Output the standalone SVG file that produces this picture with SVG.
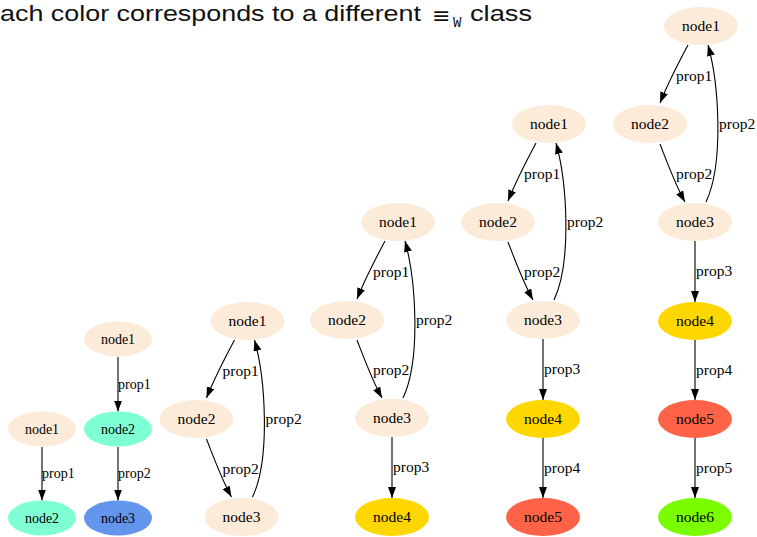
<svg xmlns="http://www.w3.org/2000/svg" width="757" height="537" viewBox="0 0 757 537">
<defs>
<marker id="arr" markerUnits="userSpaceOnUse" markerWidth="12" markerHeight="9" refX="11" refY="4" orient="auto">
<path d="M0,0 L11,4 L0,8 Z" fill="#000"/>
</marker>
<style>
.e{fill:none;stroke:#000;stroke-width:1.1;marker-end:url(#arr)}
.n text{font-family:"Liberation Serif",serif;font-size:15.5px;text-anchor:middle;fill:#000}
.lb{font-family:"Liberation Serif",serif;font-size:15.5px;fill:#000}
.s .n text,.s .lb{font-size:14px}
.c0{fill:#FDEBD9}.c1{fill:#7FFFD4}.c2{fill:#6495ED}.c3{fill:#FFD700}.c4{fill:#FF6347}.c5{fill:#7CFC00}
.title{font-family:"Liberation Sans",Arial,sans-serif;font-size:21.5px;fill:#111}
</style>
</defs>
<rect width="757" height="537" fill="#fff"/>
<text class="title" y="21"><tspan x="0" textLength="421" lengthAdjust="spacingAndGlyphs">ach color corresponds to a different</tspan><tspan x="432" y="23" font-family="DejaVu Sans,sans-serif" font-size="22">≡</tspan><tspan x="453" y="27" font-family="Liberation Mono,monospace" font-size="14">W</tspan><tspan x="470" y="21" textLength="62" lengthAdjust="spacingAndGlyphs">class</tspan></text>

<!-- Graph 1 -->
<g id="graph1" class="s">
<g id="g1-edges">
<path class="e" d="M42,447 L42,500.5"/>
<text class="lb" x="42" y="478">prop1</text>
</g>
<g id="g1-node1" class="n"><ellipse class="c0" cx="42" cy="429" rx="34" ry="17.5"/><text x="42" y="434">node1</text></g>
<g id="g1-node2" class="n"><ellipse class="c1" cx="42" cy="518" rx="34" ry="17.5"/><text x="42" y="523">node2</text></g>
</g>

<!-- Graph 2 -->
<g id="graph2" class="s">
<g id="g2-edges">
<path class="e" d="M118,357 L118,411.5"/>
<text class="lb" x="118" y="389">prop1</text>
<path class="e" d="M118,447 L118,500.5"/>
<text class="lb" x="118" y="478">prop2</text>
</g>
<g id="g2-node1" class="n"><ellipse class="c0" cx="118" cy="339" rx="34" ry="17.5"/><text x="118" y="344">node1</text></g>
<g id="g2-node2" class="n"><ellipse class="c1" cx="118" cy="429" rx="34" ry="17.5"/><text x="118" y="434">node2</text></g>
<g id="g2-node3" class="n"><ellipse class="c2" cx="118" cy="518" rx="34" ry="17.5"/><text x="118" y="523">node3</text></g>
</g>

<!-- Graph 3 -->
<g id="graph3" transform="translate(-150.5,99)">
<g id="g3-edges">
<path class="e" d="M385,241 C377,256 365,279 357,299"/>
<text class="lb" x="373" y="277">prop1</text>
<path class="e" d="M357,340 C364,358 372,380 382,398"/>
<text class="lb" x="373" y="375">prop2</text>
<path class="e" d="M403,398 C421,360 416,280 405,241"/>
<text class="lb" x="416" y="325">prop2</text>
</g>
<g id="g3-node1" class="n"><ellipse class="c0" cx="398" cy="222" rx="37" ry="19"/><text x="398" y="227">node1</text></g>
<g id="g3-node2" class="n"><ellipse class="c0" cx="347" cy="320" rx="37" ry="19"/><text x="347" y="325">node2</text></g>
<g id="g3-node3" class="n"><ellipse class="c0" cx="392" cy="418" rx="37" ry="19"/><text x="392" y="423">node3</text></g>
</g>

<!-- Graph 4 -->
<g id="graph4">
<g id="g4-edges">
<path class="e" d="M385,241 C377,256 365,279 357,299"/>
<text class="lb" x="373" y="277">prop1</text>
<path class="e" d="M357,340 C364,358 372,380 382,398"/>
<text class="lb" x="373" y="375">prop2</text>
<path class="e" d="M403,398 C421,360 416,280 405,241"/>
<text class="lb" x="416" y="325">prop2</text>
<path class="e" d="M392,437 L392,498"/>
<text class="lb" x="393" y="472">prop3</text>
</g>
<g id="g4-node1" class="n"><ellipse class="c0" cx="398" cy="222" rx="37" ry="19"/><text x="398" y="227">node1</text></g>
<g id="g4-node2" class="n"><ellipse class="c0" cx="347" cy="320" rx="37" ry="19"/><text x="347" y="325">node2</text></g>
<g id="g4-node3" class="n"><ellipse class="c0" cx="392" cy="418" rx="37" ry="19"/><text x="392" y="423">node3</text></g>
<g id="g4-node4" class="n"><ellipse class="c3" cx="392" cy="517" rx="37" ry="19"/><text x="392" y="522">node4</text></g>
</g>

<!-- Graph 5 -->
<g id="graph5" transform="translate(151,-98)">
<g id="g5-edges">
<path class="e" d="M385,241 C377,256 365,279 357,299"/>
<text class="lb" x="373" y="277">prop1</text>
<path class="e" d="M357,340 C364,358 372,380 382,398"/>
<text class="lb" x="373" y="375">prop2</text>
<path class="e" d="M403,398 C421,360 416,280 405,241"/>
<text class="lb" x="416" y="325">prop2</text>
<path class="e" d="M392,437 L392,498"/>
<text class="lb" x="393" y="472">prop3</text>
<path class="e" d="M392,536 L392,596"/>
<text class="lb" x="393" y="571">prop4</text>
</g>
<g id="g5-node1" class="n"><ellipse class="c0" cx="398" cy="222" rx="37" ry="19"/><text x="398" y="227">node1</text></g>
<g id="g5-node2" class="n"><ellipse class="c0" cx="347" cy="320" rx="37" ry="19"/><text x="347" y="325">node2</text></g>
<g id="g5-node3" class="n"><ellipse class="c0" cx="392" cy="418" rx="37" ry="19"/><text x="392" y="423">node3</text></g>
<g id="g5-node4" class="n"><ellipse class="c3" cx="392" cy="517" rx="37" ry="19"/><text x="392" y="522">node4</text></g>
<g id="g5-node5" class="n"><ellipse class="c4" cx="392" cy="615" rx="37" ry="19"/><text x="392" y="620">node5</text></g>
</g>

<!-- Graph 6 -->
<g id="graph6" transform="translate(303,-196)">
<g id="g6-edges">
<path class="e" d="M385,241 C377,256 365,279 357,299"/>
<text class="lb" x="373" y="277">prop1</text>
<path class="e" d="M357,340 C364,358 372,380 382,398"/>
<text class="lb" x="373" y="375">prop2</text>
<path class="e" d="M403,398 C421,360 416,280 405,241"/>
<text class="lb" x="416" y="325">prop2</text>
<path class="e" d="M392,437 L392,498"/>
<text class="lb" x="393" y="472">prop3</text>
<path class="e" d="M392,536 L392,596"/>
<text class="lb" x="393" y="571">prop4</text>
<path class="e" d="M392,634 L392,694"/>
<text class="lb" x="393" y="669">prop5</text>
</g>
<g id="g6-node1" class="n"><ellipse class="c0" cx="398" cy="222" rx="37" ry="19"/><text x="398" y="227">node1</text></g>
<g id="g6-node2" class="n"><ellipse class="c0" cx="347" cy="320" rx="37" ry="19"/><text x="347" y="325">node2</text></g>
<g id="g6-node3" class="n"><ellipse class="c0" cx="392" cy="418" rx="37" ry="19"/><text x="392" y="423">node3</text></g>
<g id="g6-node4" class="n"><ellipse class="c3" cx="392" cy="517" rx="37" ry="19"/><text x="392" y="522">node4</text></g>
<g id="g6-node5" class="n"><ellipse class="c4" cx="392" cy="615" rx="37" ry="19"/><text x="392" y="620">node5</text></g>
<g id="g6-node6" class="n"><ellipse class="c5" cx="392" cy="713" rx="37" ry="19"/><text x="392" y="718">node6</text></g>
</g>
</svg>
